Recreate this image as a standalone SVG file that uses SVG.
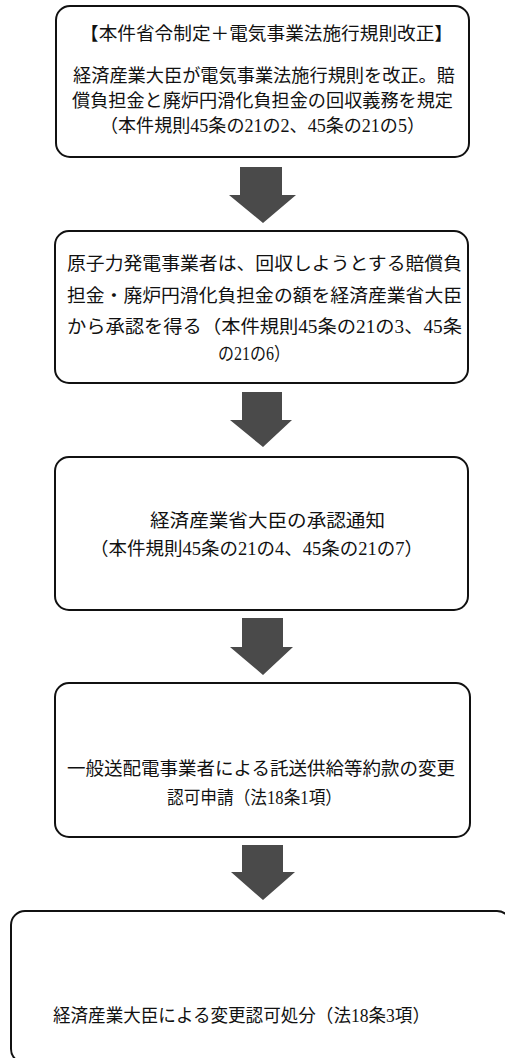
<svg xmlns="http://www.w3.org/2000/svg" width="505" height="1058" viewBox="0 0 505 1058">
<style>
.box{fill:#fff;stroke:#111;stroke-width:2}
.t{font-family:"Liberation Serif","Noto Sans CJK JP",serif;font-size:18px;fill:#111}
.arr{fill:#4a4a4a}
</style>
<rect width="505" height="1058" fill="#fff"/>
<g id="connectors">
<path class="arr" d="M240,167 H282 V195 H296 L263,223 L229,195 H240 Z"/>
<path class="arr" d="M242,392 H282 V420 H292 L263,447 L230,420 H242 Z"/>
<path class="arr" d="M242,618 H283 V647 H293 L263,675 L230,647 H242 Z"/>
<path class="arr" d="M242,845 H283 V872 H295 L263,900 L231,872 H242 Z"/>
</g>
<g id="node1">
<rect class="box" x="56" y="6" width="413" height="151" rx="14"/>
<text class="t" x="80" y="40" textLength="373" lengthAdjust="spacingAndGlyphs">【本件省令制定＋電気事業法施行規則改正】</text>
<text class="t" x="73" y="82" textLength="382" lengthAdjust="spacingAndGlyphs">経済産業大臣が電気事業法施行規則を改正。賠</text>
<text class="t" x="72" y="107" textLength="381" lengthAdjust="spacingAndGlyphs">償負担金と廃炉円滑化負担金の回収義務を規定</text>
<text class="t" x="100" y="132" textLength="325" lengthAdjust="spacingAndGlyphs">（本件規則45条の21の2、45条の21の5）</text>
</g>
<g id="node2">
<rect class="box" x="55" y="231" width="413" height="152" rx="14"/>
<text class="t" x="67" y="270" textLength="395" lengthAdjust="spacingAndGlyphs">原子力発電事業者は、回収しようとする賠償負</text>
<text class="t" x="67" y="302" textLength="395" lengthAdjust="spacingAndGlyphs">担金・廃炉円滑化負担金の額を経済産業省大臣</text>
<text class="t" x="67" y="333" textLength="395" lengthAdjust="spacingAndGlyphs">から承認を得る（本件規則45条の21の3、45条</text>
<text class="t" x="218" y="360" textLength="72" lengthAdjust="spacingAndGlyphs">の21の6）</text>
</g>
<g id="node3">
<rect class="box" x="55" y="457" width="413" height="153" rx="14"/>
<text class="t" x="150" y="527" textLength="235" lengthAdjust="spacingAndGlyphs">経済産業省大臣の承認通知</text>
<text class="t" x="90" y="555" textLength="333" lengthAdjust="spacingAndGlyphs">（本件規則45条の21の4、45条の21の7）</text>
</g>
<g id="node4">
<rect class="box" x="55" y="683" width="415" height="154" rx="14"/>
<text class="t" x="67" y="775" textLength="388" lengthAdjust="spacingAndGlyphs">一般送配電事業者による託送供給等約款の変更</text>
<text class="t" x="167" y="804" textLength="175" lengthAdjust="spacingAndGlyphs">認可申請（法18条1項）</text>
</g>
<g id="node5">
<rect class="box" x="11" y="911" width="500" height="152" rx="14"/>
<text class="t" x="53" y="1022" textLength="377" lengthAdjust="spacingAndGlyphs">経済産業大臣による変更認可処分（法18条3項）</text>
</g>
</svg>
